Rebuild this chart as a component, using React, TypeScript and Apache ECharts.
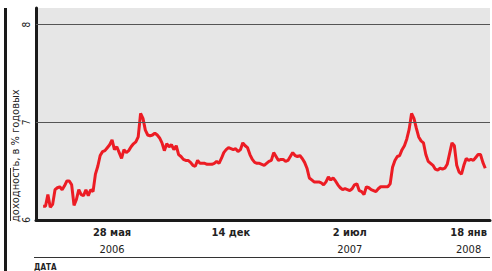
import React, { useEffect, useRef } from "react";
import * as echarts from "echarts";

// x axis: one category every 4 days, starting 20 Jan 2006
const startDate = "2006-01-20";
const stepDays = 4;
const categoryCount = 192;

const tickDates = ["2006-05-28", "2006-12-14", "2007-07-02", "2008-01-18"];
const tickDayLabels = ["28 мая", "14 дек", "2 июл", "18 янв"];
const tickYears = ["2006", "2006", "2007", "2008"];
const showYear = [true, false, true, true];

const yTicks = [6, 7, 8];
const gridValues = [7, 8];

// yield, % per year, one value per 4-day category
const yieldValues: (number | null)[] = [
  null, null, null, 6.14, 6.14, 6.26, 6.13, 6.16, 6.31, 6.33,
  6.34, 6.31, 6.35, 6.40, 6.40, 6.36, 6.15, 6.21, 6.31, 6.26,
  6.25, 6.31, 6.25, 6.31, 6.29, 6.47, 6.55, 6.66, 6.70, 6.71,
  6.74, 6.77, 6.82, 6.72, 6.75, 6.69, 6.63, 6.72, 6.69, 6.71,
  6.75, 6.78, 6.80, 6.85, 7.09, 7.04, 6.92, 6.87, 6.86, 6.87,
  6.89, 6.87, 6.84, 6.79, 6.71, 6.78, 6.75, 6.77, 6.72, 6.76,
  6.67, 6.65, 6.62, 6.61, 6.61, 6.59, 6.56, 6.55, 6.61, 6.58,
  6.58, 6.58, 6.57, 6.57, 6.57, 6.58, 6.60, 6.58, 6.63, 6.69,
  6.72, 6.74, 6.73, 6.72, 6.73, 6.70, 6.72, 6.79, 6.76, 6.74,
  6.67, 6.62, 6.59, 6.58, 6.58, 6.57, 6.56, 6.58, 6.60, 6.61,
  6.69, 6.65, 6.61, 6.62, 6.62, 6.60, 6.61, 6.65, 6.69, 6.66,
  6.65, 6.66, 6.63, 6.59, 6.53, 6.43, 6.41, 6.39, 6.39, 6.39,
  6.38, 6.36, 6.39, 6.44, 6.41, 6.43, 6.40, 6.36, 6.33, 6.31,
  6.32, 6.31, 6.30, 6.32, 6.36, 6.37, 6.30, 6.29, 6.26, 6.34,
  6.33, 6.31, 6.30, 6.29, 6.32, 6.34, 6.34, 6.34, 6.34, 6.37,
  6.54, 6.61, 6.65, 6.66, 6.72, 6.76, 6.83, 6.93, 7.09, 7.04,
  6.94, 6.85, 6.81, 6.79, 6.67, 6.60, 6.58, 6.56, 6.52, 6.51,
  6.53, 6.52, 6.53, 6.57, 6.68, 6.79, 6.76, 6.56, 6.49, 6.47,
  6.56, 6.63, 6.61, 6.62, 6.61, 6.64, 6.67, 6.67, 6.59, 6.53,
  null, null,
];

const FONT = "'Liberation Sans Narrow', 'DejaVu Sans Condensed', 'Liberation Sans', sans-serif";

function buildCategories(): string[] {
  const [y, m, d] = startDate.split("-").map(Number);
  const t0 = Date.UTC(y, m - 1, d);
  const out: string[] = [];
  for (let i = 0; i < categoryCount; i++) {
    out.push(new Date(t0 + i * stepDays * 86400000).toISOString().slice(0, 10));
  }
  return out;
}

export default function App() {
  const ref = useRef<HTMLDivElement>(null);
  useEffect(() => {
    if (!ref.current) return;
    const chart = echarts.init(ref.current, null, { renderer: "svg" });
    const categories = buildCategories();
    chart.setOption({
      animation: false,
      grid: {
        left: 36,
        right: 2,
        top: 8,
        bottom: 51,
        show: true,
        backgroundColor: "#e6e6e6",
        borderWidth: 0,
      },
      xAxis: {
        type: "category",
        data: categories,
        boundaryGap: false,
        axisLine: { show: true, lineStyle: { color: "#1a1a1a", width: 3 } },
        axisTick: { show: false },
        splitLine: { show: false },
        axisLabel: {
          margin: 4,
          interval: (_idx: number, val: string) => tickDates.includes(val),
          formatter: (val: string) => {
            const k = tickDates.indexOf(val);
            if (k < 0) return "";
            return `{d|${tickDayLabels[k]}}\n{y|${showYear[k] ? tickYears[k] : " "}}`;
          },
          rich: {
            d: { fontFamily: FONT, fontSize: 11, fontWeight: "bold", color: "#222", lineHeight: 17 },
            y: { fontFamily: FONT, fontSize: 11, color: "#222", lineHeight: 17 },
          },
        },
      },
      yAxis: {
        type: "value",
        min: 6,
        max: 8.17,
        interval: 1,
        axisLine: { show: true, lineStyle: { color: "#1a1a1a", width: 3 } },
        axisTick: { show: false },
        splitLine: { show: false },
        axisLabel: {
          rotate: 90,
          margin: 5,
          fontFamily: FONT,
          fontSize: 10,
          color: "#222",
          formatter: (v: number) => (yTicks.includes(v) ? String(v) : ""),
        },
      },
      series: [
        {
          type: "line",
          data: [],
          silent: true,
          markLine: {
            silent: true,
            symbol: ["none", "none"],
            label: { show: false },
            lineStyle: { color: "#555", width: 1, type: "solid" },
            data: gridValues.map((v) => ({ yAxis: v })),
          },
        },
        {
          type: "line",
          data: yieldValues,
          showSymbol: false,
          connectNulls: false,
          lineStyle: { color: "#ec1c24", width: 3 },
          itemStyle: { color: "#ec1c24" },
        },
      ],
      graphic: [
        { type: "rect", shape: { x: 4, y: 8, width: 3, height: 263 }, style: { fill: "#1a1a1a" } },
        { type: "line", shape: { x1: 10.5, y1: 168, x2: 10.5, y2: 221 }, style: { stroke: "#333", lineWidth: 1 } },
        {
          type: "text",
          x: 15,
          y: 222,
          rotation: Math.PI / 2,
          style: {
            text: "доходность, в % годовых",
            fontFamily: FONT,
            fontSize: 11,
            fill: "#222",
            align: "left",
            verticalAlign: "middle",
          },
        },
        { type: "line", shape: { x1: 34, y1: 257.5, x2: 490, y2: 257.5 }, style: { stroke: "#333", lineWidth: 1.2 } },
        {
          type: "text",
          x: 34,
          y: 267,
          style: {
            text: "ДАТА",
            fontFamily: FONT,
            fontSize: 8,
            fontWeight: "bold",
            fill: "#222",
            align: "left",
            verticalAlign: "middle",
          },
        },
      ],
    });
    return () => chart.dispose();
  }, []);
  return (
    <div
      ref={ref}
      style={{ position: "fixed", left: 0, top: 0, width: 492, height: 271, background: "#fff" }}
    />
  );
}
